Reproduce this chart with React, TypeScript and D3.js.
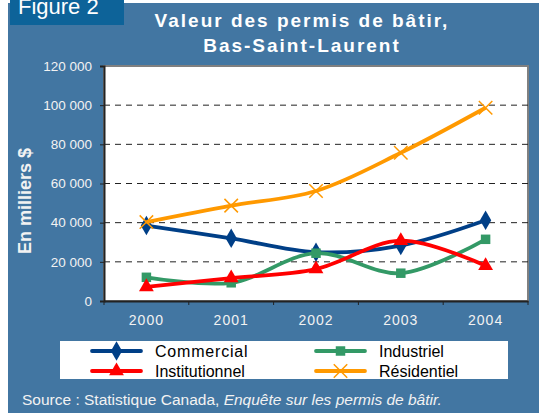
import React, { useEffect, useRef } from 'react';
import * as d3 from 'd3';

const years = ['2000', '2001', '2002', '2003', '2004'];
const commercial = [38500, 32000, 24900, 28300, 41200];
const industriel = [12100, 9300, 24400, 14200, 31500];
const institutionnel = [7200, 11700, 16300, 30800, 18000];
const residentiel = [40300, 48700, 56200, 75700, 98700];
const yTicks = [0, 20000, 40000, 60000, 80000, 100000, 120000];

const seriesList = [
  { name: 'Commercial', values: commercial, color: '#003f87', symbol: d3.symbolDiamond },
  { name: 'Industriel', values: industriel, color: '#339966', symbol: d3.symbolSquare },
  { name: 'Institutionnel', values: institutionnel, color: '#ff0000', symbol: d3.symbolTriangle },
  { name: 'Résidentiel', values: residentiel, color: '#ff9900', symbol: d3.symbolX },
];

const fmt = (v: number) => d3.format(',')(v).replace(/,/g, ' ');

export default function App() {
  const ref = useRef<SVGSVGElement>(null);

  useEffect(() => {
    const svg = d3.select(ref.current);
    svg.selectAll('*').remove();
    const W = 539, H = 413;
    const font = 'Liberation Sans, Arial, sans-serif';
    const txt = '#f2f2f2';

    // background
    svg.append('rect').attr('x', 8).attr('y', 3).attr('width', W - 8).attr('height', H - 3).attr('fill', '#4276a2');
    svg.append('rect').attr('x', 10).attr('y', 0).attr('width', 114).attr('height', 25).attr('fill', '#0d6399');
    svg.append('text').attr('x', 18).attr('y', 14).attr('fill', '#fff')
      .style('font-family', font).style('font-size', '22px').text('Figure 2');

    const titleStyle = (t: d3.Selection<SVGTextElement, unknown, null, undefined>) =>
      t.attr('text-anchor', 'middle').attr('fill', '#fff')
        .style('font-family', font).style('font-size', '19px').style('font-weight', 'bold').style('letter-spacing', '2px');
    svg.append('text').attr('x', 302).attr('y', 27).call(titleStyle).text('Valeur des permis de bâtir,');
    svg.append('text').attr('x', 302).attr('y', 52).call(titleStyle).text('Bas-Saint-Laurent');

    const left = 104, right = 528, top = 66, bottom = 301;
    const x = d3.scaleBand().domain(years).range([left, right]);
    const y = d3.scaleLinear().domain([0, 120000]).range([bottom, top]);

    svg.append('rect').attr('x', left).attr('y', top).attr('width', right - left).attr('height', bottom - top)
      .attr('fill', '#fff').attr('stroke', '#808080').attr('stroke-width', 2);

    // grid
    svg.append('g').selectAll('line').data(yTicks.filter(t => t > 0 && t < 120000)).enter().append('line')
      .attr('x1', left).attr('x2', right).attr('y1', d => y(d)).attr('y2', d => y(d))
      .attr('stroke', '#222').attr('stroke-dasharray', '6,5').attr('stroke-width', 1);

    // y axis
    const ya = svg.append('g').attr('transform', `translate(${left},0)`)
      .call(d3.axisLeft(y).tickValues(yTicks).tickFormat(d => fmt(d as number)).tickSize(4).tickPadding(8));
    ya.select('.domain').attr('stroke', '#222').attr('stroke-width', 2);
    ya.selectAll('.tick line').attr('stroke', '#222');
    ya.selectAll('.tick text').attr('fill', txt).style('font-family', font).style('font-size', '13.5px');

    // x axis
    const xa = svg.append('g').attr('transform', `translate(0,${bottom})`)
      .call(d3.axisBottom(x).tickSize(0).tickPadding(14));
    xa.select('.domain').attr('stroke', '#222').attr('stroke-width', 2);
    xa.selectAll('.tick text').attr('fill', txt).style('font-family', font).style('font-size', '14px').style('letter-spacing', '1px');
    xa.selectAll('line.bt').data(d3.range(6)).enter().append('line').attr('class', 'bt')
      .attr('x1', i => left + i * x.bandwidth()).attr('x2', i => left + i * x.bandwidth())
      .attr('y1', 0).attr('y2', 4).attr('stroke', '#222');

    svg.append('text').attr('transform', 'translate(31,201) rotate(-90)').attr('text-anchor', 'middle').attr('fill', txt)
      .style('font-family', font).style('font-size', '18px').style('font-weight', 'bold').text('En milliers $');

    const cx = (i: number) => (x(years[i]) as number) + x.bandwidth() / 2;
    const line = d3.line<number>().x((_, i) => cx(i)).y(d => y(d)).curve(d3.curveCatmullRom.alpha(0.5));

    const sizes: Record<string, number> = { Commercial: 110, Industriel: 90, Institutionnel: 95, 'Résidentiel': 120 };
    seriesList.forEach(s => {
      svg.append('path').datum(s.values).attr('d', line).attr('fill', 'none')
        .attr('stroke', s.color).attr('stroke-width', 3.8);
      svg.append('g').selectAll('path').data(s.values).enter().append('path')
        .attr('transform', (d, i) => `translate(${cx(i)},${y(d)})`)
        .attr('d', d3.symbol().type(s.symbol).size(sizes[s.name])())
        .attr('fill', s.name === 'Résidentiel' ? 'none' : s.color)
        .attr('stroke', s.name === 'Résidentiel' ? s.color : 'none')
        .attr('stroke-width', 1.5);
    });

    // legend
    svg.append('rect').attr('x', 60).attr('y', 341).attr('width', 448).attr('height', 38).attr('fill', '#fff');
    const legPos = [
      { lx: 92, ly: 351 }, { lx: 316, ly: 351 }, { lx: 92, ly: 371 }, { lx: 316, ly: 371 },
    ];
    seriesList.forEach((s, i) => {
      const p = legPos[i];
      svg.append('line').attr('x1', p.lx).attr('x2', p.lx + 49).attr('y1', p.ly).attr('y2', p.ly)
        .attr('stroke', s.color).attr('stroke-width', 3.8).attr('stroke-linecap', 'round');
      svg.append('path').attr('transform', `translate(${p.lx + 24.5},${p.ly})`)
        .attr('d', d3.symbol().type(s.symbol).size(sizes[s.name])())
        .attr('fill', s.name === 'Résidentiel' ? 'none' : s.color)
        .attr('stroke', s.name === 'Résidentiel' ? s.color : 'none').attr('stroke-width', 1.5);
      svg.append('text').attr('x', p.lx + 63).attr('y', p.ly + 5.5).attr('fill', '#000')
        .style('font-family', font).style('font-size', '16px').style('letter-spacing', i === 0 ? '0.8px' : '0')
        .text(s.name);
    });

    const src = svg.append('text').attr('x', 22).attr('y', 405).attr('fill', txt)
      .style('font-family', font).style('font-size', '15.5px');
    src.append('tspan').text('Source : Statistique Canada, ');
    src.append('tspan').style('font-style', 'italic').text('Enquête sur les permis de bâtir.');
  }, []);

  return <svg ref={ref} width={539} height={413} style={{ position: 'absolute', left: 0, top: 0 }} />;
}
